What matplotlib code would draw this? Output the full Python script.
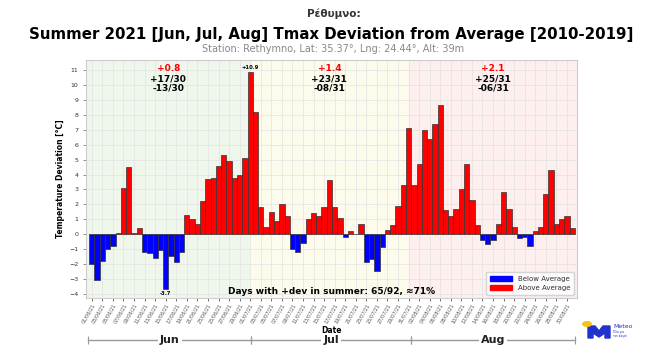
import pandas as pd
import matplotlib.pyplot as plt
import matplotlib.transforms as mtransforms
from matplotlib.patches import Patch, Circle, Polygon

# daily Tmax deviation from the 2010-2019 average, Jun 1 - Aug 31 2021
dates = pd.date_range("2021-06-01", "2021-08-31", freq="D")
jun_dev = [-2.0, -3.1, -1.8, -1.0, -0.8, 0.1, 3.1, 4.5, 0.1, 0.4,
           -1.2, -1.3, -1.6, -1.1, -3.7, -1.5, -1.9, -1.2, 1.3, 1.0,
           0.7, 2.2, 3.7, 3.8, 4.6, 5.3, 4.9, 3.8, 4.0, 5.1]
jul_dev = [10.9, 8.2, 1.8, 0.5, 1.5, 0.9, 2.0, 1.2, -1.0, -1.2,
           -0.6, 1.0, 1.4, 1.2, 1.8, 3.6, 1.8, 1.1, -0.2, 0.2,
           0.0, 0.7, -1.9, -1.7, -2.5, -0.9, 0.3, 0.6, 1.9, 3.3,
           7.1]
aug_dev = [3.3, 4.7, 7.0, 6.4, 7.4, 8.7, 1.6, 1.2, 1.7, 3.0,
           4.7, 2.3, 0.6, -0.4, -0.7, -0.4, 0.7, 2.8, 1.7, 0.5,
           -0.3, -0.2, -0.8, 0.2, 0.5, 2.7, 4.3, 0.7, 1.0, 1.2,
           0.4]
months = ["Jun", "Jul", "Aug"]
month_mean = ["+0.8", "+1.4", "+2.1"]
month_pos = ["+17/30", "+23/31", "+25/31"]
month_neg = ["-13/30", "-08/31", "-06/31"]
month_bg = ["#eff6ec", "#fdfcec", "#fcefee"]

dev = jun_dev + jul_dev + aug_dev
x = list(range(len(dev)))
colors = ["red" if v >= 0 else "blue" for v in dev]

fig = plt.figure(figsize=(6.5, 3.55), dpi=100)
ax = fig.add_axes([0.1323, 0.1606, 0.7554, 0.6704])

# month background shading
bounds = [-1.1, 30, 60, 91.9]
for i in range(3):
    ax.axvspan(bounds[i], bounds[i + 1], color=month_bg[i], zorder=0, lw=0)

ax.bar(x, dev, width=1.0, color=colors, edgecolor="#333333", linewidth=0.5, zorder=3)

ax.set_xlim(-1.1, 91.9)
ax.set_ylim(-4.3, 11.7)
ax.set_yticks(range(-4, 12))
ax.set_xticks(x[::2])
ax.set_xticklabels(dates[::2].strftime("%d/%m/%y"), rotation=60, ha="right",
                   rotation_mode="anchor", fontsize=3.6, color="#555555")
ax.tick_params(axis="y", labelsize=4.5, length=2, width=0.4, colors="#333333")
ax.tick_params(axis="x", length=2, width=0.4, pad=1)
ax.grid(True, color="#e2e2e2", linewidth=0.5, zorder=1)
for s in ax.spines.values():
    s.set_color("#cccccc")
ax.set_ylabel("Temperature Deviation [°C]", fontsize=5.5, fontweight="bold", labelpad=3)
ax.set_xlabel("Date", fontsize=5.5, fontweight="bold", labelpad=1)

# monthly stats
starts = [0, len(jun_dev), len(jun_dev) + len(jul_dev)]
lens = [len(jun_dev), len(jul_dev), len(aug_dev)]
for i in range(3):
    cx = starts[i] + (lens[i] - 1) / 2
    ax.text(cx, 11.1, month_mean[i], color="red", fontsize=6.5, fontweight="bold", ha="center", va="center")
    ax.text(cx, 10.45, month_pos[i], color="black", fontsize=6.5, fontweight="bold", ha="center", va="center")
    ax.text(cx, 9.8, month_neg[i], color="black", fontsize=6.5, fontweight="bold", ha="center", va="center")

imax = dev.index(max(dev))
imin = dev.index(min(dev))
ax.text(imax, max(dev) + 0.1, f"+{max(dev)}", fontsize=3.8, fontweight="bold", ha="center", va="bottom")
ax.text(imin, min(dev) - 0.15, f"{min(dev)}", fontsize=3.8, fontweight="bold", ha="center", va="top")

npos = sum(1 for v in dev if v >= 0)
ax.text(45.5, -3.88, f"Days with +dev in summer: {npos}/{len(dev)}, ≈{round(100 * npos / len(dev))}%",
        fontsize=6.5, fontweight="bold", ha="center", va="center", zorder=5)

ax.legend(handles=[Patch(color="blue", label="Below Average"), Patch(color="red", label="Above Average")],
          loc="lower right", fontsize=5, frameon=True, edgecolor="#cccccc", handlelength=3.2,
          borderpad=0.5, labelcolor="#333333")

# month brackets below the axis
trans = mtransforms.blended_transform_factory(ax.transData, ax.transAxes)
edges = [-0.7, 30.2, 60.5, 91.5]
for i in range(3):
    ax.plot([edges[i], edges[i + 1]], [-0.175, -0.175], color="#999999", lw=1,
            transform=trans, clip_on=False)
    ax.plot([edges[i], edges[i + 1]], [-0.175, -0.175], color="#999999", lw=0, marker="|",
            markersize=6, markeredgewidth=0.8, transform=trans, clip_on=False)
    ax.text((edges[i] + edges[i + 1]) / 2, -0.175, months[i], transform=trans, fontsize=8,
            fontweight="bold", ha="center", va="center", color="#222222",
            bbox=dict(facecolor="white", edgecolor="none", pad=1.5))

# titles
fig.text(0.514, 1 - 14 / 355, "Ρέθυμνο:", fontsize=7.5, fontweight="bold", color="#333333", ha="center", va="center")
fig.text(0.51, 1 - 35 / 355, "Summer 2021 [Jun, Jul, Aug] Tmax Deviation from Average [2010-2019]",
         fontsize=10.8, fontweight="bold", ha="center", va="center")
fig.text(0.5125, 1 - 49 / 355, "Station: Rethymno, Lat: 35.37°, Lng: 24.44°, Alt: 39m",
         fontsize=7, color="#888888", ha="center", va="center")

# logo
lw_px, lh_px = 650, 355
fig.patches.append(Polygon([(588 / lw_px, 1 - 338 / lh_px), (588 / lw_px, 1 - 326 / lh_px),
                            (595 / lw_px, 1 - 326 / lh_px), (599 / lw_px, 1 - 331 / lh_px),
                            (603 / lw_px, 1 - 326 / lh_px), (610 / lw_px, 1 - 326 / lh_px),
                            (610 / lw_px, 1 - 338 / lh_px), (605 / lw_px, 1 - 338 / lh_px),
                            (605 / lw_px, 1 - 333 / lh_px), (599 / lw_px, 1 - 337 / lh_px),
                            (593 / lw_px, 1 - 333 / lh_px), (593 / lw_px, 1 - 338 / lh_px)],
                           closed=True, transform=fig.transFigure, color="#2233cc", zorder=5))
fig.patches.append(Circle((587 / lw_px, 1 - 324 / lh_px), 0.0065, transform=fig.transFigure,
                          color="#f5c518", zorder=6))
fig.text(613 / lw_px, 1 - 327 / lh_px, "Meteo", fontsize=4.5, color="#2233cc", va="center")
fig.text(613 / lw_px, 1 - 334 / lh_px, "Όλα για\nτον καιρό", fontsize=2, color="#2233cc", va="center")

fig.savefig("out.png", dpi=100)
